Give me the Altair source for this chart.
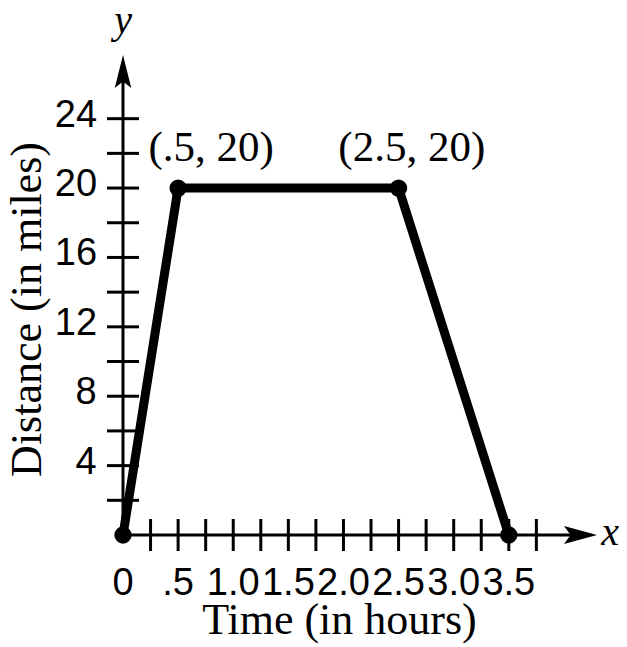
import altair as alt
import pandas as pd

# ---- data ----
time_hours = [0, 0.5, 2.5, 3.5]
distance_miles = [0, 20, 20, 0]

x_minor_ticks = [0.25, 0.5, 0.75, 1.0, 1.25, 1.5, 1.75, 2.0, 2.25, 2.5, 2.75, 3.0, 3.25, 3.5, 3.75]
y_minor_ticks = [2, 4, 6, 8, 10, 12, 14, 16, 18, 20, 22, 24]

x_label_values = [0, 0.5, 1.0, 1.5, 2.0, 2.5, 3.0, 3.5]
x_label_texts = ["0", ".5", "1.0", "1.5", "2.0", "2.5", "3.0", "3.5"]
y_label_values_1 = [4, 8]
y_label_texts_1 = ["4", "8"]
y_label_values_2 = [12, 16, 20, 24]
y_label_texts_2 = ["12", "16", "20", "24"]

ann_texts = ["(.5, 20)", "(2.5, 20)"]
ann_x = [0.80, 2.62]
ann_y = [21.56, 21.56]

x_title = "Time (in hours)"
y_title = "Distance (in miles)"

X_MAX = 4.3
Y_MAX = 27.67

# ---- tables ----
line_df = pd.DataFrame({"x": time_hours, "y": distance_miles})
xt_df = pd.DataFrame({"x": x_minor_ticks})
yt_df = pd.DataFrame({"y": y_minor_ticks})
xl_df = pd.DataFrame({"x": x_label_values, "t": x_label_texts})
yl1_df = pd.DataFrame({"y": y_label_values_1, "t": y_label_texts_1})
yl2_df = pd.DataFrame({"y": y_label_values_2, "t": y_label_texts_2})
ann_df = pd.DataFrame({"x": ann_x, "y": ann_y, "t": ann_texts})
one = pd.DataFrame({"a": [0]})

xs = alt.Scale(domain=[0, X_MAX], nice=False, zero=False)
ys = alt.Scale(domain=[0, Y_MAX], nice=False, zero=False)


def X(*a, **k):
    return alt.X(*a, scale=xs, axis=None, **k)


def Y(*a, **k):
    return alt.Y(*a, scale=ys, axis=None, **k)


line = alt.Chart(line_df).mark_line(color="black", strokeWidth=9, strokeJoin="miter").encode(
    x=X("x:Q"), y=Y("y:Q"),
)
pts = alt.Chart(line_df).mark_circle(color="black", size=300, opacity=1).encode(
    x=X("x:Q"), y=Y("y:Q"),
)

x_rule = alt.Chart(one).mark_rule(color="black", strokeWidth=3).encode(
    x=X(datum=0), x2=alt.X2(datum=X_MAX - 0.1), y=Y(datum=0),
)
y_rule = alt.Chart(one).mark_rule(color="black", strokeWidth=3).encode(
    x=X(datum=0), y=Y(datum=0), y2=alt.Y2(datum=Y_MAX - 0.6),
)

x_ticks = alt.Chart(xt_df).mark_tick(color="black", orient="vertical", size=32, thickness=3, opacity=1).encode(
    x=X("x:Q"), y=Y(datum=0),
)
y_ticks = alt.Chart(yt_df).mark_tick(color="black", orient="horizontal", size=32, thickness=3, opacity=1).encode(
    x=X(datum=0), y=Y("y:Q"),
)

up_arrow = alt.Chart(one).mark_point(
    shape="M0,0L0.5,2L0,1.6L-0.5,2Z", filled=True, color="black", size=1089, opacity=1, strokeWidth=0
).encode(x=X(datum=0), y=Y(datum=Y_MAX))
right_arrow = alt.Chart(one).mark_point(
    shape="M0,0L-2,-0.55L-1.6,0L-2,0.55Z", filled=True, color="black", size=1089, opacity=1, strokeWidth=0
).encode(x=X(datum=X_MAX), y=Y(datum=0))

x_labels = alt.Chart(xl_df).mark_text(
    font="Liberation Sans", fontSize=38, color="black", align="center", baseline="alphabetic", dy=60,
).encode(x=X("x:Q"), y=Y(datum=0), text="t:N")
y_labels_1 = alt.Chart(yl1_df).mark_text(
    font="Liberation Sans", fontSize=38, color="black", align="center", baseline="middle", dx=-37, dy=-3,
).encode(x=X(datum=0), y=Y("y:Q"), text="t:N")
y_labels_2 = alt.Chart(yl2_df).mark_text(
    font="Liberation Sans", fontSize=38, color="black", align="center", baseline="middle", dx=-47, dy=-3,
).encode(x=X(datum=0), y=Y("y:Q"), text="t:N")

x_title_mark = alt.Chart(one).mark_text(
    text=x_title, font="Liberation Serif", fontSize=44, color="black",
    align="center", baseline="alphabetic", dx=-4, dy=99,
).encode(x=X(datum=2.0), y=Y(datum=0))
y_title_mark = alt.Chart(one).mark_text(
    text=y_title, font="Liberation Serif", fontSize=44, color="black",
    align="center", baseline="alphabetic", angle=270, dy=-82,
).encode(x=X(datum=0), y=Y(datum=13.0))

y_letter = alt.Chart(one).mark_text(
    text="y", font="Liberation Serif", fontStyle="italic", fontSize=40, color="black",
    align="center", baseline="alphabetic", dy=-22,
).encode(x=X(datum=0), y=Y(datum=Y_MAX))
x_letter = alt.Chart(one).mark_text(
    text="x", font="Liberation Serif", fontStyle="italic", fontSize=40, color="black",
    align="center", baseline="alphabetic", dx=13, dy=10,
).encode(x=X(datum=X_MAX), y=Y(datum=0))

ann = alt.Chart(ann_df).mark_text(
    font="Liberation Serif", fontSize=43, color="black", align="center", baseline="alphabetic",
).encode(x=X("x:Q"), y=Y("y:Q"), text="t:N")

chart = alt.layer(
    line, x_rule, y_rule, x_ticks, y_ticks, up_arrow, right_arrow, pts,
    x_labels, y_labels_1, y_labels_2, x_title_mark, y_title_mark, y_letter, x_letter, ann,
).properties(
    width=474, height=480,
    autosize=alt.AutoSizeParams(type="none"),
    padding={"left": 115, "top": 47, "right": 22, "bottom": 112},
    background="white",
).configure_view(stroke=None)

chart.save("out.html", embed_options={"renderer": "svg", "actions": False})
